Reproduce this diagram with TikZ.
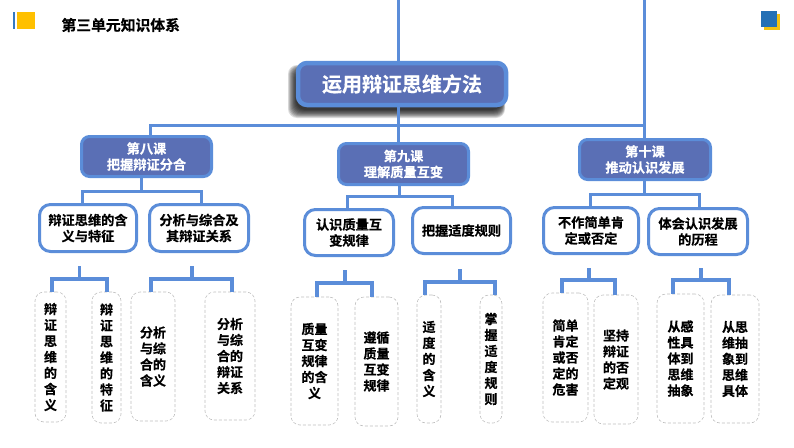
\documentclass[tikz,border=0pt]{standalone}
\usepackage{fontspec}
\setmainfont[FakeBold=0.5]{Noto Sans CJK SC Bold}
\usepackage{tikz}
\usetikzlibrary{positioning, calc}
\definecolor{LinkBlue}{HTML}{5B8DD9}
\definecolor{FillBlue}{HTML}{5A6FB5}
\definecolor{MarkBlue}{HTML}{2470B5}
\definecolor{MarkGold}{HTML}{F2C111}
\definecolor{BarGold}{HTML}{FFC000}
\begin{document}
\begin{tikzpicture}[x=1pt, y=-1pt,
		RootNode/.style={rectangle, rounded corners=9pt, draw=LinkBlue, fill=FillBlue, line width=4.5pt, text=white, font=\fontsize{20}{24}\selectfont, inner sep=0pt},
		LessonNode/.style={rectangle, rounded corners=8pt, draw=LinkBlue, fill=FillBlue, line width=3pt, text=white, align=center, font=\fontsize{13.2}{16}\selectfont, inner sep=0pt},
		TopicNode/.style={rectangle, rounded corners=11pt, draw=LinkBlue, fill=white, line width=3pt, align=center, font=\fontsize{13.2}{16}\selectfont, inner sep=0pt},
		LeafNode/.style={rectangle, rounded corners=9pt, draw=black!25, densely dashed, line width=0.6pt, align=center, font=\fontsize{13}{16}\selectfont, inner sep=0pt},
		Link/.style={draw=LinkBlue, line width=3pt},
		Tie/.style={draw=LinkBlue, line width=3.6pt}]

	\useasboundingbox (0,0) rectangle (794,447);

	% corner marks
	\fill[MarkBlue!70!LinkBlue] (13,12) rectangle (15,29);
	\fill[BarGold] (17,12) rectangle (35,29);
	\node[anchor=west, font=\fontsize{14.8}{18}\selectfont] (Title) at (58,25) {第三单元知识体系};
	\fill[MarkGold] (764,14) rectangle (780,30);
	\fill[MarkBlue] (761,11) rectangle (777,27);

	% soft shadow of the root box
	\foreach \k in {0,...,9}
		\fill[black, opacity=0.14, rounded corners=9pt] (288+0.9*\k,65+0.6*\k) rectangle (505-0.4*\k,118-0.9*\k);

	\coordinate (TopL) at (398,0);
	\coordinate (TopR) at (644,0);
	\coordinate (BarL) at (150,125);
	\coordinate (BarR) at (644,125);

	\node[RootNode, minimum width=208pt, minimum height=42pt] (Root) at (402,84) {运用辩证思维方法};

	\node[LessonNode, minimum width=130pt, minimum height=40pt] (L8) at (146.5,156.5) {第八课\\把握辩证分合};
	\node[LessonNode, minimum width=130pt, minimum height=41pt] (L9) at (403.5,164) {第九课\\理解质量互变};
	\node[LessonNode, minimum width=131pt, minimum height=40pt] (L10) at (645,159.5) {第十课\\推动认识发展};

	\node[TopicNode, minimum width=97pt, minimum height=47pt] (T1) at (88,228) {辩证思维的含\\义与特征};
	\node[TopicNode, minimum width=99pt, minimum height=47pt] (T2) at (199,228) {分析与综合及\\其辩证关系};
	\node[TopicNode, minimum width=89pt, minimum height=46pt] (T3) at (349,232.5) {认识质量互\\变规律};
	\node[TopicNode, minimum width=98pt, minimum height=46pt] (T4) at (461.5,230.5) {把握适度规则};
	\node[TopicNode, minimum width=95pt, minimum height=46pt] (T5) at (591,230.5) {不作简单肯\\定或否定};
	\node[TopicNode, minimum width=99pt, minimum height=46pt] (T6) at (698,231.5) {体会认识发展\\的历程};

	\node[LeafNode, minimum width=31pt, minimum height=130pt] (A1) at (50.5,357) {辩\\证\\思\\维\\的\\含\\义};
	\node[LeafNode, minimum width=29pt, minimum height=131pt] (A2) at (106.5,357.5) {辩\\证\\思\\维\\的\\特\\征};
	\node[LeafNode, minimum width=44pt, minimum height=129pt] (A3) at (153,356.5) {分析\\与综\\合的\\含义};
	\node[LeafNode, minimum width=50pt, minimum height=128pt] (A4) at (230,356) {分析\\与综\\合的\\辩证\\关系};
	\node[LeafNode, minimum width=47pt, minimum height=128pt] (B1) at (314.5,361) {质量\\互变\\规律\\的含\\义};
	\node[LeafNode, minimum width=43pt, minimum height=129pt] (B2) at (376.5,361.5) {遵循\\质量\\互变\\规律};
	\node[LeafNode, minimum width=24pt, minimum height=128pt] (B3) at (429,359) {适\\度\\的\\含\\义};
	\node[LeafNode, minimum width=22pt, minimum height=128pt] (B4) at (491,359) {掌\\握\\适\\度\\规\\则};
	\node[LeafNode, minimum width=45pt, minimum height=129pt] (C1) at (565.5,357.5) {简单\\肯定\\或否\\定的\\危害};
	\node[LeafNode, minimum width=44pt, minimum height=129pt] (C2) at (616,359.5) {坚持\\辩证\\的否\\定观};
	\node[LeafNode, minimum width=47pt, minimum height=129pt] (C3) at (680.5,358.5) {从感\\性具\\体到\\思维\\抽象};
	\node[LeafNode, minimum width=48pt, minimum height=128pt] (C4) at (735,359) {从思\\维抽\\象到\\思维\\具体};

	% trunk and lesson bar
	\draw[Link] (TopL) -- (TopL |- Root.north);
	\draw[Link] (TopL |- Root.south) -- (TopL |- L9.north);
	\draw[Link] (TopR) -- (TopR |- L10.north);
	\draw[Link] (L8.north -| BarL) |- (BarR);

	% lesson to topics
	\coordinate (J1) at (141,191);
	\coordinate (J2) at (399,196);
	\coordinate (J3) at (644,194);
	\draw[Link] (L8.south -| J1) -- (J1);
	\draw[Link] (T1.north -| 82,0) |- (J1) -| (T2.north -| 201,0);
	\draw[Link] (L9.south -| J2) -- (J2);
	\draw[Link] (T3.north -| 347,0) |- (J2) -| (T4.north -| 452,0);
	\draw[Link] (L10.south -| J3) -- (J3);
	\draw[Link] (T5.north -| 590,0) |- (J3) -| (T6.north -| 699,0);

	% topics to leaves
	\coordinate (S1) at (79.5,266);
	\coordinate (S2) at (192,266);
	\coordinate (S3) at (345,270);
	\coordinate (S4) at (460,269);
	\coordinate (S5) at (589,268);
	\coordinate (S6) at (701,268);
	\draw[Tie] (S1) -- (79.5,279);
	\draw[Tie] (A1.north -| 52,0) |- (79.5,279) -| (A2.north -| 107,0);
	\draw[Tie] (S2) -- (192,279);
	\draw[Tie] (A3.north -| 151,0) |- (192,279) -| (A4.north -| 232,0);
	\draw[Tie] (S3) -- (345,283);
	\draw[Tie] (B1.north -| 317,0) |- (345,283) -| (B2.north -| 372,0);
	\draw[Tie] (S4) -- (460,282);
	\draw[Tie] (B3.north -| 425,0) |- (460,282) -| (B4.north -| 495,0);
	\draw[Tie] (S5) -- (589,280);
	\draw[Tie] (C1.north -| 562,0) |- (589,280) -| (C2.north -| 615,0);
	\draw[Tie] (S6) -- (701,280);
	\draw[Tie] (C3.north -| 673,0) |- (701,280) -| (C4.north -| 729,0);
\end{tikzpicture}
\end{document}
